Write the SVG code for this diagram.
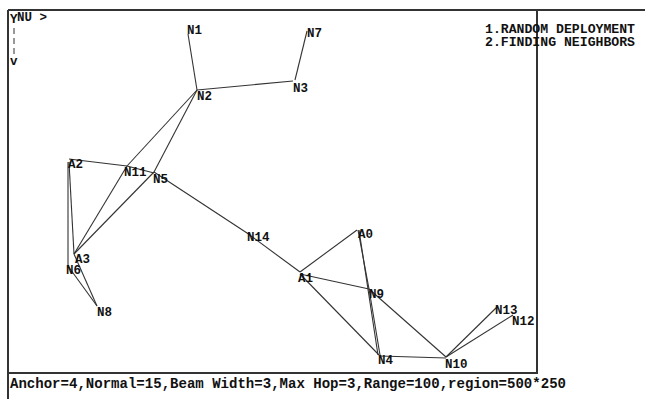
<svg xmlns="http://www.w3.org/2000/svg" width="645" height="399" viewBox="0 0 645 399">
<style>
.frame{stroke:#333;stroke-width:2;fill:none}
.edge{stroke:#333;stroke-width:1.1;fill:none}
.lbl{font-family:"Liberation Mono","DejaVu Sans Mono",monospace;font-weight:bold;font-size:12.5px;fill:#111}
.info{font-family:"Liberation Mono","DejaVu Sans Mono",monospace;font-weight:bold;font-size:12px;fill:#111}
.status{font-family:"Liberation Mono","DejaVu Sans Mono",monospace;font-weight:bold;font-size:14px;fill:#111}
</style>
<rect width="645" height="399" fill="#fff"/>
<g id="frame">
<line class="frame" x1="8" y1="10" x2="645" y2="10"/>
<line class="frame" x1="8" y1="10" x2="8" y2="399"/>
<line class="frame" x1="537" y1="10" x2="537" y2="374"/>
<line class="frame" x1="8" y1="373" x2="538" y2="373"/>
</g>
<g id="axis">
<text x="17" y="21" class="lbl" font-size="10px">NU &gt;</text>
<text x="10" y="23" class="lbl" font-size="10px">Y</text>
<line x1="14" y1="28" x2="14" y2="56" stroke="#333" stroke-width="1" stroke-dasharray="6,4"/>
<text x="10" y="65" class="lbl" font-size="10px">v</text>
</g>
<g id="connectors">
<line class="edge" x1="188" y1="34" x2="197" y2="90"/>
<line class="edge" x1="307" y1="31" x2="295" y2="80"/>
<line class="edge" x1="197" y1="90" x2="293" y2="81"/>
<line class="edge" x1="197" y1="90" x2="127" y2="166"/>
<line class="edge" x1="197" y1="90" x2="154" y2="172"/>
<line class="edge" x1="69" y1="159" x2="127" y2="166"/>
<line class="edge" x1="127" y1="166" x2="154" y2="173"/>
<line class="edge" x1="127" y1="166" x2="74" y2="254"/>
<line class="edge" x1="154" y1="172" x2="74" y2="254"/>
<line class="edge" x1="68" y1="162" x2="68" y2="266"/>
<line class="edge" x1="69" y1="162" x2="74" y2="254"/>
<line class="edge" x1="74" y1="254" x2="97" y2="306"/>
<line class="edge" x1="68" y1="266" x2="97" y2="306"/>
<line class="edge" x1="154" y1="172" x2="247" y2="233"/>
<line class="edge" x1="247" y1="233" x2="300" y2="272"/>
<line class="edge" x1="300" y1="272" x2="357" y2="230"/>
<line class="edge" x1="300" y1="274" x2="369" y2="289"/>
<line class="edge" x1="300" y1="274" x2="379" y2="355"/>
<line class="edge" x1="358" y1="230" x2="369" y2="289"/>
<line class="edge" x1="359" y1="230" x2="378" y2="355"/>
<line class="edge" x1="369" y1="289" x2="380" y2="355"/>
<line class="edge" x1="369" y1="289" x2="446" y2="357"/>
<line class="edge" x1="380" y1="356" x2="446" y2="358"/>
<line class="edge" x1="446" y1="357" x2="497" y2="307"/>
<line class="edge" x1="446" y1="357" x2="513" y2="315"/>
</g>
<g id="N1"><text class="lbl" x="187" y="34">N1</text></g>
<g id="N7"><text class="lbl" x="307" y="37">N7</text></g>
<g id="N3"><text class="lbl" x="293" y="92">N3</text></g>
<g id="N2"><text class="lbl" x="197" y="100">N2</text></g>
<g id="A2"><text class="lbl" x="68" y="168">A2</text></g>
<g id="N11"><text class="lbl" x="124" y="176">N11</text></g>
<g id="N5"><text class="lbl" x="153" y="183">N5</text></g>
<g id="N14"><text class="lbl" x="247" y="241">N14</text></g>
<g id="A3"><text class="lbl" x="75" y="263">A3</text></g>
<g id="N6"><text class="lbl" x="66" y="274">N6</text></g>
<g id="N8"><text class="lbl" x="97" y="316">N8</text></g>
<g id="A0"><text class="lbl" x="358" y="238">A0</text></g>
<g id="A1"><text class="lbl" x="298" y="282">A1</text></g>
<g id="N9"><text class="lbl" x="369" y="298">N9</text></g>
<g id="N4"><text class="lbl" x="378" y="364">N4</text></g>
<g id="N10"><text class="lbl" x="445" y="368">N10</text></g>
<g id="N13"><text class="lbl" x="495" y="314">N13</text></g>
<g id="N12"><text class="lbl" x="512" y="325">N12</text></g>
<g id="menu">
<text class="info" x="485" y="33" textLength="150" lengthAdjust="spacingAndGlyphs">1.RANDOM DEPLOYMENT</text>
<text class="info" x="485" y="46" textLength="150" lengthAdjust="spacingAndGlyphs">2.FINDING NEIGHBORS</text>
</g>
<g id="status">
<text class="status" x="10" y="388" textLength="556" lengthAdjust="spacingAndGlyphs">Anchor=4,Normal=15,Beam Width=3,Max Hop=3,Range=100,region=500*250</text>
</g>
</svg>
